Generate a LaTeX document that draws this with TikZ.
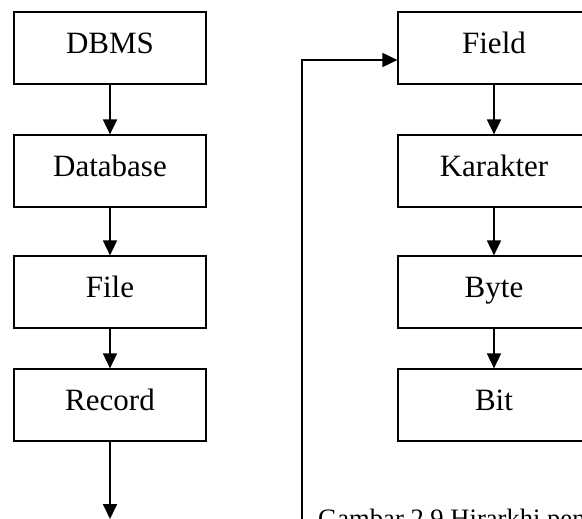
\documentclass[tikz,border=0pt]{standalone}
\usepackage{fontspec}
\setmainfont{Liberation Serif}
\usetikzlibrary{arrows.meta}
\begin{document}
\begin{tikzpicture}[x=1pt,y=-1pt,
  box/.style={draw,line width=1.2pt,minimum width=192pt,minimum height=72pt,inner sep=0pt,text height=22pt,text depth=11pt,font=\fontsize{31}{37}\selectfont},
  arr/.style={line width=1.8pt,-{Triangle[length=15pt,width=14pt]}}]
\useasboundingbox (0,0) rectangle (582,519);
\clip (0,0) rectangle (582,519);
\node[box] (dbms) at (110,48) {DBMS};
\node[box] (db) at (110,171) {Database};
\node[box] (file) at (110,292) {File};
\node[box] (rec) at (110,405) {Record};
\node[box] (field) at (494,48) {Field};
\node[box] (kar) at (494,171) {Karakter};
\node[box] (byte) at (494,292) {Byte};
\node[box] (bit) at (494,405) {Bit};
\coordinate (lend) at (110,519);
\coordinate (rstart) at (302,530);
\coordinate (corner) at (302,60);
\draw[arr] (dbms) -- (db);
\draw[arr] (db) -- (file);
\draw[arr] (file) -- (rec);
\draw[arr] (rec) -- (lend);
\draw[arr] (field) -- (kar);
\draw[arr] (kar) -- (byte);
\draw[arr] (byte) -- (bit);
\draw[arr] (rstart) -- (corner) -- (corner -| field.west);
\node[anchor=base west,inner sep=0pt,font=\fontsize{26.6}{32}\selectfont] (cap) at (318,527) {Gambar 2.9 Hirarkhi penyimpanan data};
\end{tikzpicture}
\end{document}
